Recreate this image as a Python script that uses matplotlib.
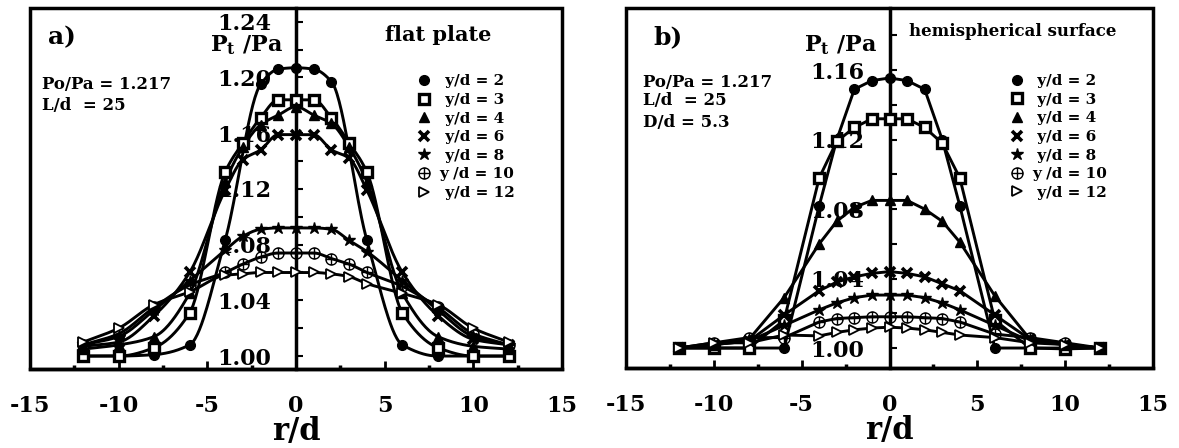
import numpy as np
import matplotlib
matplotlib.use('Agg')
import matplotlib.pyplot as plt
from matplotlib.path import Path
from matplotlib.lines import Line2D
from matplotlib.patches import Rectangle

plt.rcParams['font.family'] = 'DejaVu Serif'
plt.rcParams['font.weight'] = 'bold'
plt.rcParams['axes.labelweight'] = 'bold'
plt.rcParams['axes.unicode_minus'] = False
plt.rcParams['mathtext.fontset'] = 'custom'
plt.rcParams['mathtext.rm'] = 'DejaVu Serif:bold'
plt.rcParams['mathtext.bf'] = 'DejaVu Serif:bold'

# radial positions r/d
r_a = [-12, -10, -8, -6, -4, -3, -2, -1, 0, 1, 2, 3, 4, 6, 8, 10, 12]
r_a2 = [-12, -10, -8, -6, -4, -2, -1, 0, 1, 2, 4, 6, 8, 10, 12]
r_b = [-12, -10, -8, -6, -4, -3, -2, -1, 0, 1, 2, 3, 4, 6, 8, 10, 12]

labels = [' y/d = 2', ' y/d = 3', ' y/d = 4', ' y/d = 6', ' y/d = 8', 'y /d = 10', ' y/d = 12']

# a) flat plate, Pt/Pa
a_y2 = [1.000, 1.000, 1.001, 1.008, 1.083, 1.195, 1.206, 1.207, 1.206, 1.197, 1.083, 1.008, 1.000, 1.000, 1.000]
a_y3 = [1.000, 1.000, 1.006, 1.031, 1.132, 1.153, 1.171, 1.184, 1.184, 1.184, 1.171, 1.153, 1.132, 1.031, 1.006, 1.000, 1.000]
a_y4 = [1.005, 1.008, 1.014, 1.045, 1.125, 1.150, 1.166, 1.173, 1.179, 1.173, 1.167, 1.150, 1.125, 1.045, 1.014, 1.007, 1.005]
a_y6 = [1.007, 1.010, 1.029, 1.060, 1.119, 1.141, 1.148, 1.159, 1.159, 1.159, 1.148, 1.142, 1.119, 1.060, 1.029, 1.012, 1.008]
a_y8 = [1.008, 1.014, 1.033, 1.054, 1.076, 1.086, 1.091, 1.092, 1.092, 1.092, 1.091, 1.083, 1.075, 1.054, 1.033, 1.014, 1.008]
a_y10 = [1.008, 1.016, 1.035, 1.051, 1.060, 1.066, 1.071, 1.074, 1.074, 1.074, 1.070, 1.066, 1.060, 1.050, 1.035, 1.016, 1.008]
a_y12 = [1.010, 1.020, 1.037, 1.046, 1.058, 1.059, 1.060, 1.060, 1.060, 1.060, 1.059, 1.057, 1.052, 1.045, 1.037, 1.020, 1.010]

# b) hemispherical surface, Pt/Pa
b_y2 = [1.000, 1.000, 1.000, 1.000, 1.082, 1.120, 1.149, 1.154, 1.1555, 1.154, 1.149, 1.120, 1.082, 1.000, 1.000, 1.000, 1.000]
b_y3 = [1.000, 1.000, 1.000, 1.016, 1.098, 1.119, 1.127, 1.132, 1.132, 1.132, 1.127, 1.118, 1.098, 1.016, 1.000, 0.9995, 1.000]
b_y4 = [1.000, 1.002, 1.005, 1.029, 1.060, 1.073, 1.081, 1.085, 1.085, 1.085, 1.080, 1.073, 1.061, 1.030, 1.005, 1.002, 1.000]
b_y6 = [1.000, 1.002, 1.004, 1.019, 1.033, 1.038, 1.041, 1.043, 1.044, 1.043, 1.041, 1.037, 1.033, 1.019, 1.005, 1.002, 1.000]
b_y8 = [1.000, 1.002, 1.004, 1.013, 1.022, 1.026, 1.029, 1.0305, 1.0305, 1.0305, 1.029, 1.026, 1.022, 1.013, 1.004, 1.002, 1.000]
b_y10 = [1.000, 1.003, 1.006, 1.006, 1.015, 1.017, 1.0175, 1.018, 1.018, 1.018, 1.0175, 1.017, 1.015, 1.008, 1.006, 1.003, 1.000]
b_y12 = [1.000, 1.003, 1.003, 1.0075, 1.007, 1.009, 1.0105, 1.0115, 1.012, 1.0115, 1.0105, 1.009, 1.0075, 1.006, 1.003, 1.002, 1.000]

oplus = Path.make_compound_path(Path.unit_circle(),
                                Path([[-1, 0], [1, 0]]), Path([[0, -1], [0, 1]]))

styles = [
    dict(marker='o', ms=7, mfc='black', mec='black'),
    dict(marker='s', ms=7, mfc='white', mec='black', mew=2.4),
    dict(marker='^', ms=7, mfc='black', mec='black'),
    dict(marker='x', ms=7, mec='black', mew=2.6),
    dict(marker='*', ms=9, mfc='black', mec='black'),
    dict(marker=oplus, ms=8, mfc='none', mec='black', mew=1.0),
    dict(marker='>', ms=7, mfc='white', mec='black', mew=1.3),
]


def pchip(x, y, xs):
    x = np.asarray(x, float)
    y = np.asarray(y, float)
    h = np.diff(x)
    d = np.diff(y) / h
    m = np.zeros_like(y)
    m[0], m[-1] = d[0], d[-1]
    for k in range(1, len(x) - 1):
        if d[k - 1] * d[k] > 0:
            w1 = 2 * h[k] + h[k - 1]
            w2 = h[k] + 2 * h[k - 1]
            m[k] = (w1 + w2) / (w1 / d[k - 1] + w2 / d[k])
    idx = np.clip(np.searchsorted(x, xs) - 1, 0, len(x) - 2)
    t = (xs - x[idx]) / h[idx]
    h00 = 2 * t**3 - 3 * t**2 + 1
    h10 = t**3 - 2 * t**2 + t
    h01 = -2 * t**3 + 3 * t**2
    h11 = t**3 - t**2
    return h00 * y[idx] + h10 * h[idx] * m[idx] + h01 * y[idx + 1] + h11 * h[idx] * m[idx + 1]


def setup(ax, ylim, yticks, ylabels, yminor):
    ax.set_xlim(-15, 15)
    ax.set_ylim(*ylim)
    ax.spines['left'].set_position(('data', 0))
    for s in ax.spines.values():
        s.set_linewidth(2.5)
    ax.spines['top'].set_visible(False)
    ax.spines['right'].set_visible(False)
    ax.add_patch(Rectangle((0, 0), 1, 1, transform=ax.transAxes, fill=False,
                           lw=2.5, ec='black', clip_on=False, zorder=6))
    ax.set_xticks([-15, -10, -5, 0, 5, 10, 15])
    ax.set_xticks([-12.5, -7.5, -2.5, 2.5, 7.5, 12.5], minor=True)
    ax.set_yticks(yticks)
    ax.set_yticklabels(ylabels)
    ax.set_yticks(yminor, minor=True)
    ax.tick_params(axis='x', which='major', direction='in', length=6, width=2, pad=19, labelsize=16)
    ax.tick_params(axis='x', which='minor', direction='in', length=3, width=2.5)
    ax.tick_params(axis='y', which='both', direction='in', length=5, width=1.5, pad=18, labelsize=16)
    ax.set_xlabel('r/d', fontsize=22, labelpad=-1)
    ax.text(0.476, 0.896, r'$\mathbf{P_t}$ /Pa', transform=ax.transAxes, fontsize=16,
            ha='right', va='center')


fig = plt.figure(figsize=(11.79, 4.48), dpi=100)
ax1 = fig.add_axes([30 / 1179, 79 / 448, 532 / 1179, 361 / 448])
ax2 = fig.add_axes([626 / 1179, 80 / 448, 527 / 1179, 360 / 448])

# panel a
series_a = [(r_a2, a_y2), (r_a, a_y3), (r_a, a_y4), (r_a, a_y6), (r_a, a_y8), (r_a, a_y10), (r_a, a_y12)]
for (rr, yy), st in zip(series_a, styles):
    xs = np.linspace(rr[0], rr[-1], 400)
    ax1.plot(xs, pchip(rr, yy, xs), color='black', lw=2.1, zorder=3)
    ax1.plot(rr, yy, ls='none', zorder=4, **st)
setup(ax1, (0.9907, 1.2499), [1.00, 1.04, 1.08, 1.12, 1.16, 1.20, 1.24],
      ['1.00', '1.04', '1.08', '1.12', '1.16', '1.20', '1.24'],
      [1.02, 1.06, 1.10, 1.14, 1.18, 1.22])
ax1.text(0.034, 0.92, 'a)', transform=ax1.transAxes, fontsize=18, va='center')
ax1.text(0.767, 0.925, 'flat plate', transform=ax1.transAxes, fontsize=15, ha='center', va='center')
ax1.text(0.0226, 0.787, 'Po/Pa = 1.217', transform=ax1.transAxes, fontsize=12, va='center')
ax1.text(0.0226, 0.731, 'L/d  = 25', transform=ax1.transAxes, fontsize=12, va='center')

# panel b
series_b = [b_y2, b_y3, b_y4, b_y6, b_y8, b_y10, b_y12]
for yy, st in zip(series_b, styles):
    ax2.plot(r_b, yy, color='black', lw=2.1, zorder=3, **st)
setup(ax2, (0.9885, 1.1958), [1.00, 1.04, 1.08, 1.12, 1.16],
      ['1.00', '1.04', '1.08', '1.12', '1.16'],
      [1.02, 1.06, 1.10, 1.14, 1.18])
ax2.text(0.051, 0.92, 'b)', transform=ax2.transAxes, fontsize=18, va='center')
ax2.text(0.734, 0.936, 'hemispherical surface', transform=ax2.transAxes, fontsize=12,
         ha='center', va='center')
ax2.text(0.032, 0.794, 'Po/Pa = 1.217', transform=ax2.transAxes, fontsize=12, va='center')
ax2.text(0.032, 0.744, 'L/d  = 25', transform=ax2.transAxes, fontsize=12, va='center')
ax2.text(0.032, 0.683, 'D/d = 5.3', transform=ax2.transAxes, fontsize=12, va='center')

for ax in (ax1, ax2):
    handles = [Line2D([], [], ls='none', **st) for st in styles]
    ax.legend(handles, labels, loc='upper left', bbox_to_anchor=(0.727, 0.816),
              frameon=False, borderpad=0, borderaxespad=0, handlelength=1.0,
              handletextpad=0.5, labelspacing=0.3, prop={'size': 11, 'weight': 'bold'})

fig.savefig('out.png', dpi=100)
